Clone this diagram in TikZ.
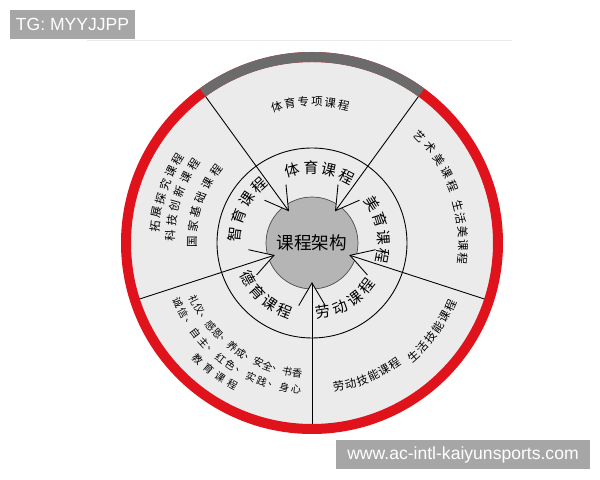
\documentclass[tikz,border=0pt]{standalone}
\usepackage{fontspec}
\setmainfont{Liberation Sans}
\newfontfamily\cjk{Noto Sans CJK SC}
\usepackage{tikz}
\usetikzlibrary{
  calc
  % for the labels
  , positioning
  % ------
}
\definecolor{ringred}{HTML}{E0121C}
\definecolor{ringgray}{HTML}{6B6B6B}
\definecolor{paper}{HTML}{EBEBEB}
\definecolor{hubgray}{HTML}{B5B5B5}
\definecolor{taggray}{HTML}{A6A6A6}

% #1 name, #2 radius, #3 first angle, #4 step, #5 turn, #6 characters
\newcommand{\arcword}[6]{%
  \foreach \ch [count=\k from 0] in {#6} {
    \pgfmathsetmacro{\ang}{#3+\k*(#4)}
    \node [rotate={\ang+(#5)}] (#1\k) at (\ang:#2) {\ch};
  }%
}

\begin{document}
\begin{tikzpicture}[x=0.02cm, y=0.02cm,
    hair/.style={draw=black, line width=0.5pt},
    tag/.style={fill=taggray, text=white, inner sep=0pt,
      minimum height=0.58cm, font=\fontsize{10}{12}\selectfont},
    hub word/.style={font=\cjk\fontsize{10}{12}\selectfont},
    ring word/.style={font=\cjk\fontsize{8.5}{10}\selectfont, inner sep=0pt},
    rim word/.style={font=\cjk\fontsize{6.5}{8}\selectfont, inner sep=0pt},
    small word/.style={font=\cjk\fontsize{5.8}{7}\selectfont, inner sep=0pt}]
  \useasboundingbox (0,0) rectangle (600,480);
  \coordinate (O) at (312,237);

  \draw [black!8, line width=0.5pt] (87,440) -- (512,440);
  \node [tag, minimum width=2.5cm] (tg) at (72.5,455.5) {TG: MYYJJPP};
  \node [tag, minimum width=5.08cm] (site) at (463,25.5) {www.ac-intl-kaiyunsports.com};

  \begin{scope}[shift={(O)}]
    \fill [paper] (0,0) circle [radius=186];
    \draw [ringred, line width=0.2cm] (0,0) circle [radius=186];
    \draw [ringgray, line width=0.2cm] (54:186) arc [start angle=54, end angle=126, radius=186];

    % spokes of the outer ring
    \foreach \a in {126,54,-18,-90,198}
      \draw [hair] (\a:181) -- (\a:95);
    \draw [hair] (0,0) circle [radius=95];

    \node [circle, draw=black!70, fill=hubgray, minimum size=1.84cm,
      inner sep=0pt, hub word] (hub) at (0,0) {课程架构};

    % arrows into the hub
    \foreach \a in {126,54,-18,-90,198} {
      \fill [paper] (\a+12:64) -- (\a:40) -- (\a-12:64) -- cycle;
      \draw [hair] (\a:95) -- (\a:40);
      \draw [hair] (\a+12:64) -- (\a:40) -- (\a-12:64);
    }

    \begin{scope}[ring word]
      \arcword{pe}{75}{105}{-14.2}{-90}{体,育,课,程}
      \arcword{ae}{72}{33}{-14.5}{-90}{美,育,课,程}
      \arcword{lb}{70}{-81}{14.3}{90}{劳,动,课,程}
      \arcword{mo}{73}{209}{13}{90}{德,育,课,程}
      \arcword{in}{78}{173.6}{-13.7}{-90}{智,育,课,程}
    \end{scope}

    \begin{scope}[rim word]
      \arcword{sp}{141}{104.5}{-5.5}{-90}{体,育,专,项,课,程}
      \arcword{ar}{152}{44.7}{-5.7}{-90}{艺,术,美,课,程}
      \arcword{li}{151}{14.3}{-5.1}{-90}{生,活,美,课,程}
      \arcword{sk}{146}{-79.5}{4.8}{90}{劳,动,技,能,课,程}
      \arcword{ls}{152}{-48}{4.75}{90}{生,活,技,能,课,程}
      \arcword{ex}{158}{174}{-5.2}{-90}{拓,展,探,究,课,程}
      \arcword{te}{142}{177}{-6.1}{-90}{科,技,创,新,课,程}
      \arcword{na}{120}{179.5}{-7.3}{-90}{国,家,基,础,课,程}
    \end{scope}

    % moral course list
    \begin{scope}[small word]
      \arcword{ra}{131}{206}{4.42}{90}{礼,仪,、,感,恩,、,养,成,、,安,全,、,书,香}
      \arcword{rb}{147}{204}{4.6}{90}{诚,信,、,自,主,、,红,色,、,实,践,、,身,心}
      \arcword{rc}{163}{225.5}{5.07}{90}{教,育,课,程}
    \end{scope}
  \end{scope}
\end{tikzpicture}
\end{document}
